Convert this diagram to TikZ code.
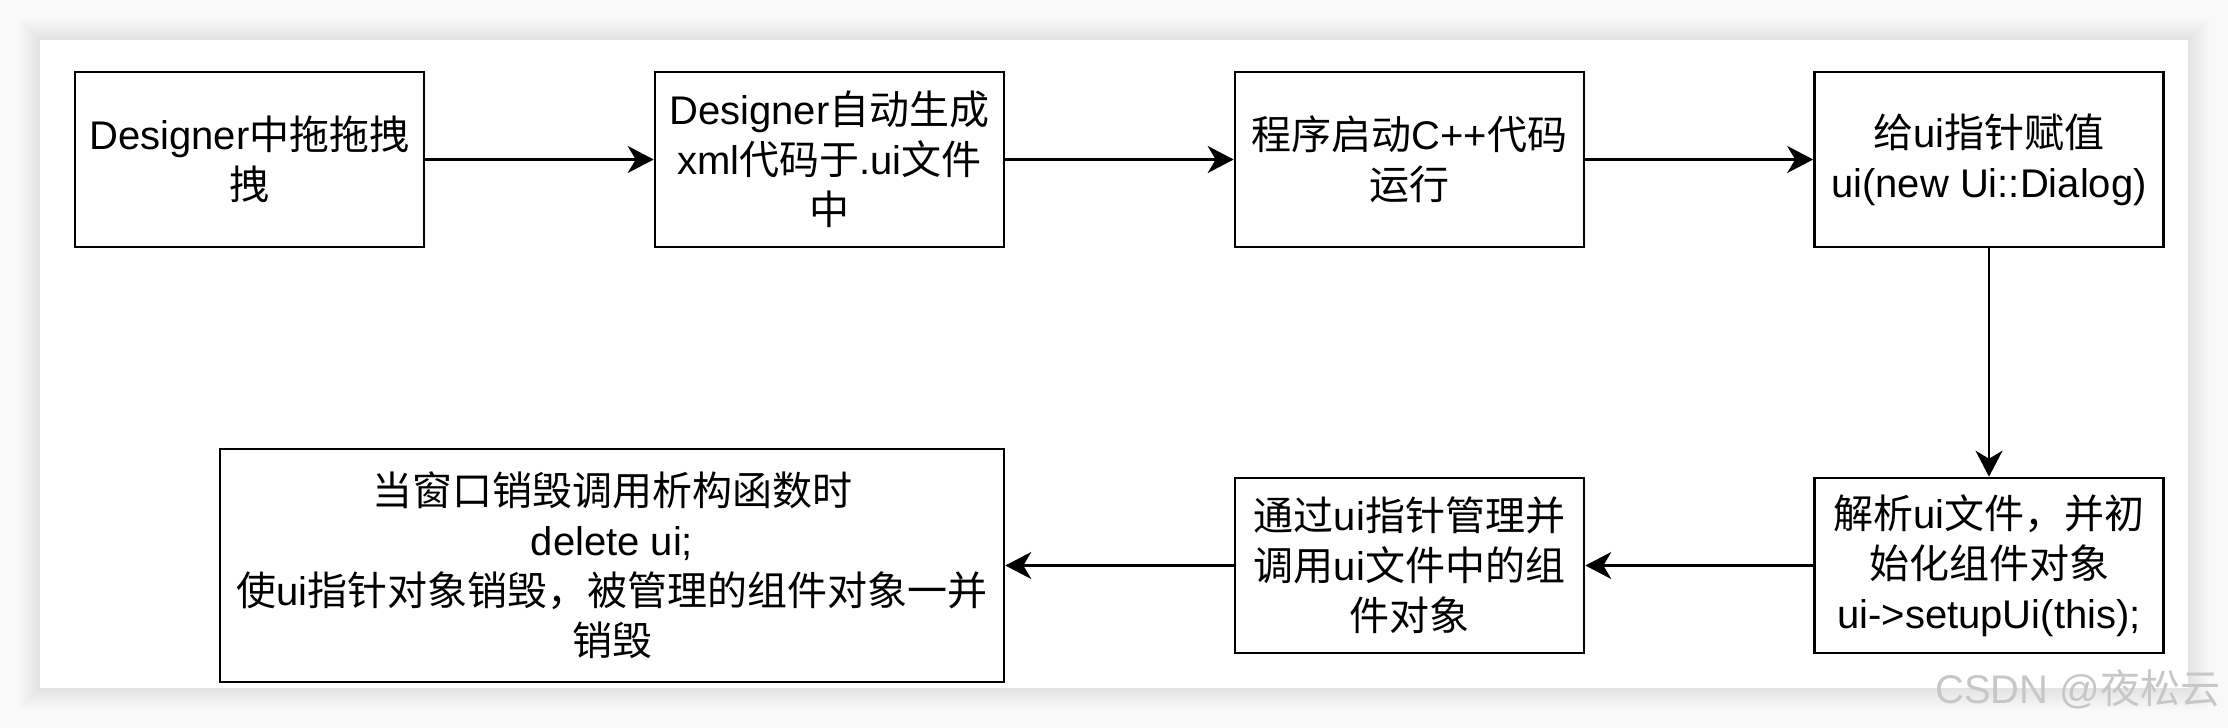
\documentclass[tikz,border=0pt]{standalone}
\usepackage{fontspec}
\setmainfont{Liberation Sans}
\newfontfamily\cjk{Noto Sans CJK SC}
\usetikzlibrary{arrows.meta}
\newcommand\zh[1]{{\cjk #1}}
\definecolor{bgc}{HTML}{F9F9F9}
\begin{document}
\begin{tikzpicture}[x=0.5pt,y=-0.5pt,
  box/.style={draw=black, line width=1.3pt, fill=white, minimum width=174.5pt, minimum height=87.5pt,
    align=center, inner sep=0pt, font=\fontsize{20}{25}\selectfont},
  arr/.style={line width=1.2pt, -{Stealth[length=13pt,width=13.5pt,inset=4pt]}}]
\fill[bgc] (0,0) rectangle (2228,728);
\useasboundingbox (0,0) rectangle (2228,728);
\foreach \i in {1,...,22} {
  \fill[black, opacity=0.005] ({40-\i},{40-\i}) rectangle ({2188+\i},{688+\i});
}
\fill[white] (40,40) rectangle (2188,688);

\node[box] (b1) at (249.5,159.5) {Designer\zh{中拖拖拽}\\\zh{拽}};
\node[box] (b2) at (829.5,159.5) {Designer\zh{自动生成}\\xml\zh{代码于}.ui\zh{文件}\\\zh{中}};
\node[box] (b3) at (1409.5,159.5) {\zh{程序启动}C++\zh{代码}\\\zh{运行}};
\node[box] (b4) at (1989,159.5) {\zh{给}ui\zh{指针赋值}\\ui(new Ui::Dialog)};
\node[box] (b5) at (1989,565.5) {\zh{解析}ui\zh{文件，并初}\\\zh{始化组件对象}\\ui->setupUi(this);};
\node[box] (b6) at (1409.5,565.5) {\zh{通过}ui\zh{指针管理并}\\\zh{调用}ui\zh{文件中的组}\\\zh{件对象}};
\node[box, minimum width=392pt, minimum height=116.5pt] (b7) at (612,565.5)
  {\zh{当窗口销毁调用析构函数时}\\delete ui;\\\zh{使}ui\zh{指针对象销毁，被管理的组件对象一并}\\\zh{销毁}};

\draw[arr] (b1) -- (b2);
\draw[arr] (b2) -- (b3);
\draw[arr] (b3) -- (b4);
\draw[arr] (b4) -- (b5);
\draw[arr] (b5) -- (b6);
\draw[arr] (b6) -- (b7);

\node[anchor=base west, inner sep=0pt, text=black!22, font=\fontsize{20}{20}\selectfont] (wm) at (1935,703) {CSDN @\zh{夜松云}};
\end{tikzpicture}
\end{document}
